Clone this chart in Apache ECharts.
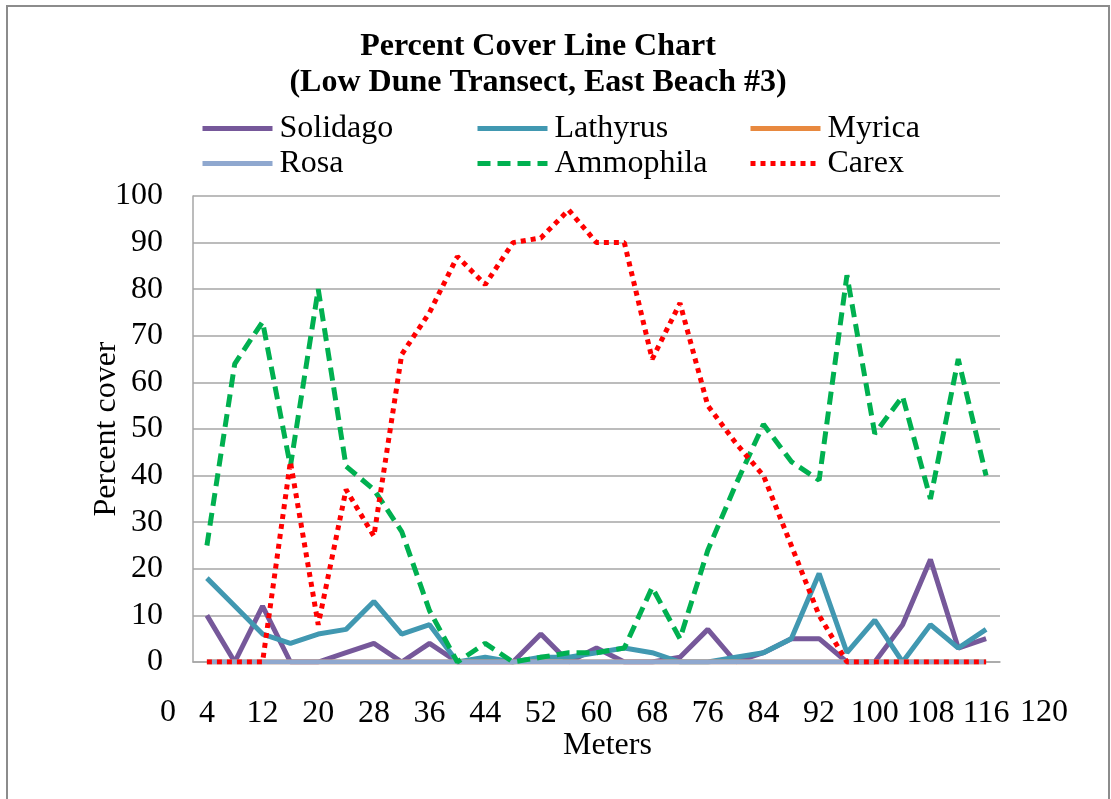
<!DOCTYPE html>
<html>
<head>
<meta charset="utf-8">
<title>Percent Cover Line Chart</title>
<script src="https://cdn.jsdelivr.net/npm/echarts@6/dist/echarts.min.js"></script>
<style>
  html, body { margin: 0; padding: 0; background: #ffffff; }
  #chart { width: 1111px; height: 799px; }
</style>
</head>
<body>
<div id="chart"></div>
<script>
// Transect positions (m) and percent cover per species
const meters = [4, 8, 12, 16, 20, 24, 28, 32, 36, 40, 44, 48, 52, 56, 60,
                64, 68, 72, 76, 80, 84, 88, 92, 96, 100, 104, 108, 112, 116];
const solidago  = [10, 0, 12, 0, 0, 2, 4, 0, 4, 0, 0, 0, 6, 0, 3, 0, 0, 1, 7, 0, 2, 5, 5, 0, 0, 8, 22, 3, 5];
const lathyrus  = [18, 12, 6, 4, 6, 7, 13, 6, 8, 0, 1, 0, 1, 1, 2, 3, 2, 0, 0, 1, 2, 5, 19, 2, 9, 0, 8, 3, 7];
const myrica    = [0, 0, 0, 0, 0, 0, 0, 0, 0, 0, 0, 0, 0, 0, 0, 0, 0, 0, 0, 0, 0, 0, 0, 0, 0, 0, 0, 0, 0];
const rosa      = [0, 0, 0, 0, 0, 0, 0, 0, 0, 0, 0, 0, 0, 0, 0, 0, 0, 0, 0, 0, 0, 0, 0, 0, 0, 0, 0, 0, 0];
const ammophila = [25, 64, 73, 42, 80, 42, 37, 28, 11, 0, 4, 0, 1, 2, 2, 3, 16, 5, 24, 38, 51, 43, 39, 83, 49, 57, 35, 65, 40];
const carex     = [0, 0, 0, 43, 8, 37, 27, 66, 75, 87, 81, 90, 91, 97, 90, 90, 65, 77, 55, 47, 40, 25, 10, 0, 0, 0, 0, 0, 0];

// Outer axis end labels
const xEndLabels = ['0', '120'];

// Legend columns (two rows each)
const legendColumns = [['Solidago', 'Rosa'], ['Lathyrus', 'Ammophila'], ['Myrica', 'Carex']];

const FONT = '"Liberation Serif", "Times New Roman", serif';
const FS = 32;
const GRID_COLOR = '#a6a6a6';

const chart = echarts.init(document.getElementById('chart'), null, { renderer: 'canvas' });

function lineSeries(name, data, color, type) {
  return {
    name: name,
    type: 'line',
    data: data,
    symbol: 'none',
    smooth: false,
    lineStyle: { color: color, width: 5, type: type, cap: 'butt' },
    itemStyle: { color: color },
    emphasis: { disabled: true }
  };
}

const legendLeft = [200, 475, 748];
const legends = legendColumns.map(function (names, i) {
  return {
    orient: 'vertical',
    left: legendLeft[i],
    top: 111,
    padding: 0,
    itemWidth: 70,
    itemHeight: 14,
    itemGap: 0,
    selectedMode: false,
    itemStyle: { opacity: 0 },
    lineStyle: { width: 5 },
    textStyle: { fontFamily: FONT, fontSize: FS, color: '#000', lineHeight: 35, padding: [0, 0, 0, 2] },
    data: names
  };
});

chart.setOption({
  animation: false,
  backgroundColor: '#ffffff',
  title: {
    text: 'Percent Cover Line Chart\n(Low Dune Transect, East Beach #3)',
    left: 533,
    top: 24,
    textAlign: 'center',
    textStyle: { fontFamily: FONT, fontSize: FS, fontWeight: 'bold', color: '#000', lineHeight: 36 }
  },
  legend: legends,
  grid: { left: 193, right: 111, top: 196, bottom: 137, containLabel: false },
  xAxis: {
    type: 'category',
    data: meters.map(String),
    boundaryGap: true,
    name: 'Meters',
    nameLocation: 'middle',
    nameGap: 68,
    nameMoveOverlap: false,
    nameTextStyle: { fontFamily: FONT, fontSize: FS, color: '#000', padding: [0, 0, 0, 22] },
    axisLine: { lineStyle: { color: GRID_COLOR, width: 1.5 } },
    axisTick: { show: false },
    axisLabel: { interval: 1, margin: 36, fontFamily: FONT, fontSize: FS, color: '#000' },
    splitLine: { show: false }
  },
  yAxis: {
    type: 'value',
    min: 0,
    max: 100,
    interval: 10,
    name: 'Percent cover',
    nameLocation: 'middle',
    nameGap: 70,
    nameMoveOverlap: false,
    nameRotate: 90,
    nameTextStyle: { fontFamily: FONT, fontSize: FS, color: '#000' },
    axisLine: { show: true, lineStyle: { color: GRID_COLOR, width: 1.5 } },
    axisTick: { show: false },
    axisLabel: { margin: 30, fontFamily: FONT, fontSize: FS, color: '#000' },
    splitLine: { show: true, lineStyle: { color: GRID_COLOR, width: 1.5 } }
  },
  series: [
    lineSeries('Solidago', solidago, '#76589a', 'solid'),
    lineSeries('Lathyrus', lathyrus, '#4198b1', 'solid'),
    lineSeries('Myrica', myrica, '#e8893f', 'solid'),
    lineSeries('Rosa', rosa, '#8fa8cf', 'solid'),
    lineSeries('Ammophila', ammophila, '#00b050', [13, 7]),
    lineSeries('Carex', carex, '#ff0000', [5, 5])
  ],
  graphic: [
    {
      type: 'rect',
      silent: true,
      shape: { x: 7, y: 6, width: 1102, height: 900 },
      style: { fill: 'none', stroke: '#8c8c8c', lineWidth: 2 }
    },
    {
      type: 'text',
      silent: true,
      left: 160,
      top: 697,
      style: { text: xEndLabels[0], font: FS + 'px ' + FONT, fill: '#000' }
    },
    {
      type: 'text',
      silent: true,
      left: 1020,
      top: 697,
      style: { text: xEndLabels[1], font: FS + 'px ' + FONT, fill: '#000' }
    }
  ]
});
</script>
</body>
</html>
